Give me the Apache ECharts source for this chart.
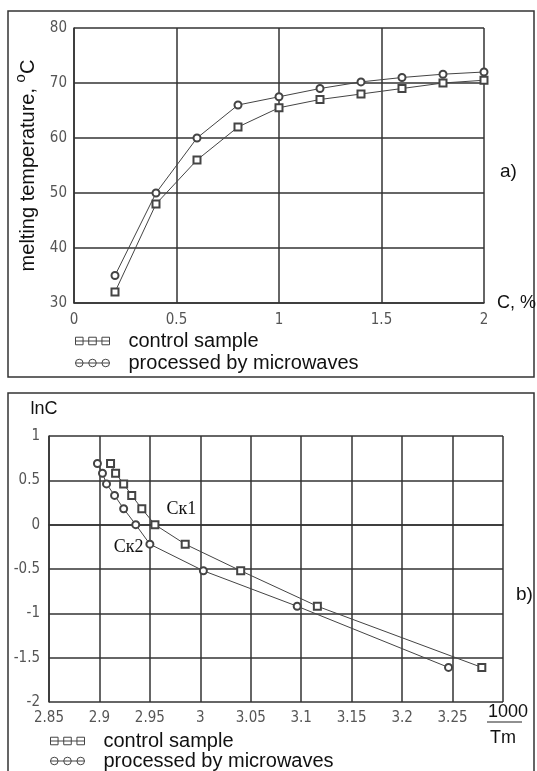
<!DOCTYPE html>
<html>
<head>
<meta charset="utf-8">
<script src="https://cdn.jsdelivr.net/npm/echarts@6/dist/echarts.min.js"></script>
<style>
  html, body { margin: 0; padding: 0; background: #fff; }
  #chart { width: 537px; height: 771px; }
</style>
</head>
<body>
<div id="chart"></div>
<script>
// a) melting temperature vs concentration
var concPercent = [0.2, 0.4, 0.6, 0.8, 1.0, 1.2, 1.4, 1.6, 1.8, 2.0];
var tempControl = [32, 48, 56, 62, 65.5, 67, 68, 69, 70, 70.5];
var tempProcessed = [35, 50, 60, 66, 67.5, 69, 70.2, 71, 71.6, 72];

// b) lnC vs 1000/Tm (points go from C = 2 down to C = 0.2)
var lnC = [0.69, 0.58, 0.46, 0.33, 0.18, 0, -0.22, -0.52, -0.92, -1.61];
var invTControl = [2.911, 2.916, 2.924, 2.932, 2.942, 2.955, 2.985, 3.040, 3.116, 3.279];
var invTProcessed = [2.898, 2.903, 2.907, 2.915, 2.924, 2.936, 2.950, 3.003, 3.096, 3.246];

var seriesNames = ['control sample', 'processed by microwaves'];

var tickFont = "'Liberation Sans Narrow', 'DejaVu Sans Condensed', sans-serif";
var textFont = "'Liberation Sans', Arial, sans-serif";
var gridColor = '#333';
var markColor = '#444';

var chart = echarts.init(document.getElementById('chart'));

function pairs(xs, ys) {
  var out = [];
  for (var i = 0; i < xs.length; i++) out.push([xs[i], ys[i]]);
  return out;
}

var squareIcon = 'path://M0,5H36 M0,1h8v8h-8z M14,1h8v8h-8z M28,1h8v8h-8z';
var circleIcon = 'path://M0,5H36 M0,5a4,4 0 1,0 8,0a4,4 0 1,0 -8,0 M14,5a4,4 0 1,0 8,0a4,4 0 1,0 -8,0 M28,5a4,4 0 1,0 8,0a4,4 0 1,0 -8,0';

function legendAt(left, top, gap) {
  return {
    orient: 'vertical',
    left: left,
    top: top,
    height: 60,
    padding: 0,
    itemWidth: 34,
    itemHeight: 8,
    itemGap: gap,
    selectedMode: false,
    itemStyle: { color: 'none', borderColor: markColor, borderWidth: 1 },
    textStyle: { fontSize: 20, lineHeight: 20, color: '#111', fontFamily: textFont, padding: [0, 0, 0, 14] },
    data: [
      { name: seriesNames[0], icon: squareIcon },
      { name: seriesNames[1], icon: circleIcon }
    ]
  };
}

function valueAxis(extra) {
  var base = {
    type: 'value',
    axisLine: { show: true, lineStyle: { color: gridColor, width: 1.5 } },
    axisTick: { show: false },
    splitLine: { show: true, lineStyle: { color: gridColor, width: 1.5 } },
    axisLabel: { color: '#555', fontSize: 15, fontFamily: tickFont }
  };
  return Object.assign(base, extra);
}

var option = {
  animation: false,
  backgroundColor: '#fff',
  grid: [
    { left: 74, right: 53, top: 28, bottom: 468 },
    { left: 49, right: 34, top: 436, bottom: 69 }
  ],
  legend: [legendAt(73, 331, 2), legendAt(48, 731, 0)],
  xAxis: [
    valueAxis({
      gridIndex: 0, min: 0, max: 2, interval: 0.5,
      axisLabel: { color: '#555', fontSize: 15, fontFamily: tickFont, margin: 10 },
      name: 'C, %', nameLocation: 'end', nameGap: 13,
      nameTextStyle: { fontSize: 18, color: '#111', fontFamily: textFont, align: 'left', verticalAlign: 'middle', padding: [0, 0, 12, 0] }
    }),
    valueAxis({
      gridIndex: 1, min: 2.85, max: 3.3, interval: 0.05,
      axisLabel: {
        color: '#555', fontSize: 15, fontFamily: tickFont, margin: 9,
        formatter: function (v) { return v > 3.28 ? '' : String(+v.toFixed(2)); }
      }
    })
  ],
  yAxis: [
    valueAxis({
      gridIndex: 0, min: 30, max: 80, interval: 10,
      axisLabel: { color: '#555', fontSize: 15, fontFamily: tickFont, margin: 7 },
      name: '{t|melting temperature, }{s|o}{t|C}',
      nameLocation: 'middle', nameRotate: 90, nameGap: 34,
      nameTextStyle: {
        rich: {
          t: { fontSize: 20, color: '#111', fontFamily: textFont, lineHeight: 26, verticalAlign: 'bottom' },
          s: { fontSize: 15, color: '#111', fontFamily: textFont, lineHeight: 26, verticalAlign: 'top' }
        }
      }
    }),
    valueAxis({
      gridIndex: 1, min: -2, max: 1, interval: 0.5,
      axisLabel: { color: '#555', fontSize: 15, fontFamily: tickFont, margin: 9 },
      name: 'lnC', nameLocation: 'end', nameGap: 18,
      nameTextStyle: { fontSize: 18, color: '#111', fontFamily: textFont, padding: [0, 10, 0, 0] }
    })
  ],
  series: [
    {
      name: seriesNames[0], type: 'line', xAxisIndex: 0, yAxisIndex: 0,
      symbol: 'emptyRect', symbolSize: 7,
      lineStyle: { color: markColor, width: 1 },
      itemStyle: { color: markColor, borderWidth: 1 },
      data: pairs(concPercent, tempControl)
    },
    {
      name: seriesNames[1], type: 'line', xAxisIndex: 0, yAxisIndex: 0,
      symbol: 'emptyCircle', symbolSize: 7,
      lineStyle: { color: markColor, width: 1 },
      itemStyle: { color: markColor, borderWidth: 1 },
      data: pairs(concPercent, tempProcessed)
    },
    {
      name: seriesNames[0], type: 'line', xAxisIndex: 1, yAxisIndex: 1,
      symbol: 'emptyRect', symbolSize: 7,
      lineStyle: { color: markColor, width: 1 },
      itemStyle: { color: markColor, borderWidth: 1 },
      data: pairs(invTControl, lnC).map(function (p, i) {
        if (i !== 5) return p;
        return {
          value: p,
          label: {
            show: true, formatter: 'Ск1', position: 'right', distance: 5, offset: [2, -15],
            fontSize: 18, color: '#111', fontFamily: "'Liberation Serif', 'Times New Roman', serif"
          }
        };
      })
    },
    {
      name: seriesNames[1], type: 'line', xAxisIndex: 1, yAxisIndex: 1,
      symbol: 'emptyCircle', symbolSize: 7,
      lineStyle: { color: markColor, width: 1 },
      itemStyle: { color: markColor, borderWidth: 1 },
      data: pairs(invTProcessed, lnC).map(function (p, i) {
        if (i !== 6) return p;
        return {
          value: p,
          label: {
            show: true, formatter: 'Ск2', position: 'left', distance: 5, offset: [3, 3],
            fontSize: 18, color: '#111', fontFamily: "'Liberation Serif', 'Times New Roman', serif"
          }
        };
      })
    }
  ],
  graphic: [
    { type: 'rect', shape: { x: 8, y: 11, width: 526, height: 366 }, style: { fill: 'none', stroke: '#333', lineWidth: 1.5 }, silent: true },
    { type: 'rect', shape: { x: 8, y: 393, width: 526, height: 400 }, style: { fill: 'none', stroke: '#333', lineWidth: 1.5 }, silent: true },
    { type: 'text', left: 500, top: 162, style: { text: 'a)', fontSize: 19, fill: '#111', fontFamily: textFont } },
    { type: 'text', left: 516, top: 585, style: { text: 'b)', fontSize: 19, fill: '#111', fontFamily: textFont } },
    { type: 'text', left: 488, top: 703, style: { text: '1000', fontSize: 18, fill: '#111', fontFamily: textFont } },
    { type: 'line', shape: { x1: 487, y1: 722, x2: 522, y2: 722 }, style: { stroke: '#222', lineWidth: 1.2 } },
    { type: 'text', left: 490, top: 729, style: { text: 'Tm', fontSize: 18, fill: '#111', fontFamily: textFont } }
  ]
};

chart.setOption(option);
</script>
</body>
</html>
